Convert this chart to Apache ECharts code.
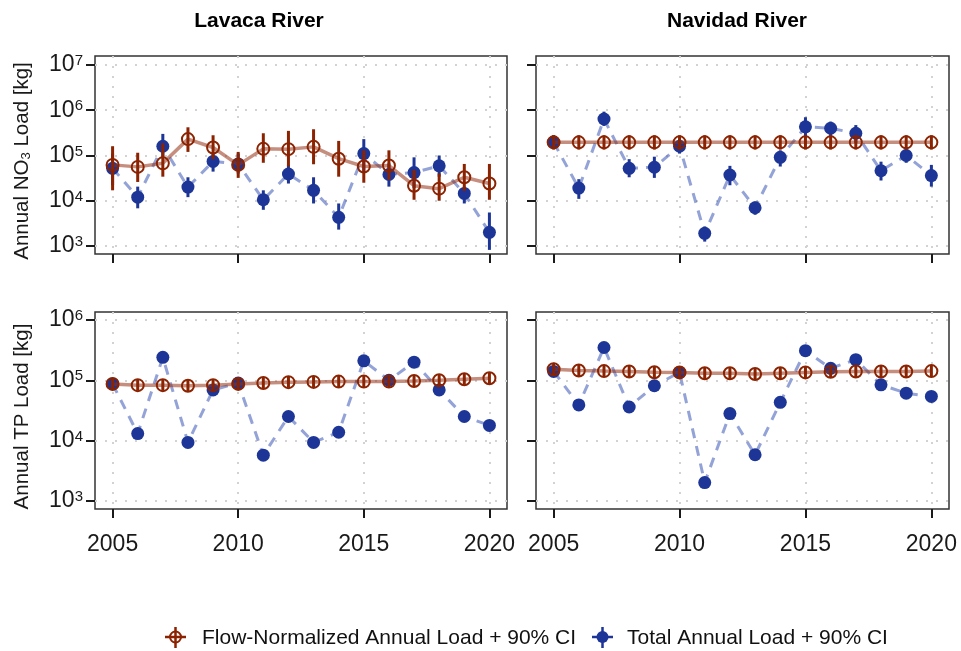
<!DOCTYPE html>
<html>
<head>
<meta charset="utf-8">
<script src="https://cdn.jsdelivr.net/npm/echarts@6/dist/echarts.min.js"></script>
<style>
  html, body { margin: 0; padding: 0; background: #ffffff; }
  #chart { width: 961px; height: 651px; }
</style>
</head>
<body>
<div id="chart"></div>
<script>
// Annual loads, water years 2005-2020
const years = [2005, 2006, 2007, 2008, 2009, 2010, 2011, 2012, 2013, 2014, 2015, 2016, 2017, 2018, 2019, 2020];
const yearTicks = [2005, 2010, 2015, 2020];
const no3Ticks = [1e3, 1e4, 1e5, 1e6, 1e7];
const tpTicks = [1e3, 1e4, 1e5, 1e6];

// Lavaca River, nitrate (kg)
const lavacaNo3Flow   = [62000, 56000, 67000, 230000, 150000, 62000, 140000, 138000, 155000, 85000, 57000, 60000, 21500, 18500, 33000, 24000];
const lavacaNo3FlowLo = [17000, 26000, 34000, 120000, 83000, 32000, 69000, 57000, 64000, 34000, 25000, 29000, 10500, 10000, 16600, 10500];
const lavacaNo3FlowHi = [160000, 115000, 186000, 420000, 280000, 120000, 310000, 350000, 380000, 210000, 130000, 130000, 48000, 40000, 65000, 65000];
const lavacaNo3Total   = [52000, 12000, 160000, 20000, 74000, 65000, 10500, 39000, 17000, 4300, 110000, 38000, 42000, 59000, 14500, 2000];
const lavacaNo3TotalLo = [22000, 6800, 87000, 12000, 44000, 40000, 6300, 24000, 8700, 2300, 44000, 20500, 19000, 34000, 8700, 820];
const lavacaNo3TotalHi = [110000, 20500, 300000, 33000, 110000, 110000, 17000, 61000, 33000, 8700, 230000, 67000, 91000, 100000, 20500, 5500];

// Navidad River, nitrate (kg)
const navidadNo3Flow   = [195000, 195000, 195000, 195000, 195000, 195000, 195000, 195000, 195000, 195000, 195000, 195000, 195000, 195000, 195000, 195000];
const navidadNo3FlowLo = [135000, 135000, 135000, 135000, 135000, 135000, 135000, 135000, 135000, 135000, 135000, 135000, 135000, 135000, 135000, 135000];
const navidadNo3FlowHi = [280000, 280000, 280000, 280000, 280000, 280000, 280000, 280000, 280000, 280000, 280000, 280000, 280000, 280000, 280000, 280000];
const navidadNo3Total   = [195000, 19000, 640000, 52000, 55000, 160000, 1900, 37000, 7000, 91000, 430000, 400000, 310000, 46000, 100000, 36000];
const navidadNo3TotalLo = [140000, 11000, 450000, 33000, 32000, 110000, 1250, 22000, 4900, 57000, 260000, 270000, 190000, 28000, 69000, 20500];
const navidadNo3TotalHi = [280000, 30000, 930000, 83000, 94000, 230000, 2700, 59000, 9600, 130000, 700000, 560000, 470000, 73000, 150000, 62000];

// Lavaca River, total phosphorus (kg)
const lavacaTpFlow   = [87000, 83000, 83000, 81000, 83000, 87000, 90000, 93000, 94000, 95000, 95000, 95000, 97000, 100000, 104000, 108000];
const lavacaTpFlowLo = [70000, 67000, 67000, 65000, 67000, 70000, 72000, 75000, 76000, 77000, 77000, 77000, 78000, 80000, 84000, 87000];
const lavacaTpFlowHi = [109000, 104000, 104000, 101000, 104000, 109000, 112000, 116000, 117000, 119000, 119000, 119000, 121000, 125000, 130000, 135000];
const lavacaTpTotal  = [87000, 13000, 240000, 9300, 69000, 90000, 5700, 25000, 9300, 13700, 210000, 100000, 200000, 69000, 25000, 17800];

// Navidad River, total phosphorus (kg)
const navidadTpFlow   = [152000, 145000, 142000, 140000, 136000, 135000, 131000, 131000, 127000, 131000, 135000, 138000, 140000, 140000, 140000, 142000];
const navidadTpFlowLo = [122000, 116000, 114000, 112000, 109000, 108000, 105000, 105000, 102000, 105000, 108000, 110000, 112000, 112000, 112000, 114000];
const navidadTpFlowHi = [190000, 181000, 178000, 175000, 170000, 169000, 164000, 164000, 159000, 164000, 169000, 172000, 175000, 175000, 175000, 178000];
const navidadTpTotal  = [140000, 39000, 350000, 36000, 81000, 135000, 2000, 28000, 5800, 43000, 310000, 158000, 220000, 84000, 61000, 54000];

const FONT = '"Liberation Sans", Arial, sans-serif';
const RED = '#8b2200';
const RED_LINE = 'rgba(150, 50, 20, 0.55)';
const BLUE = '#1c3596';
const BLUE_LINE = 'rgba(40, 70, 175, 0.5)';
const INK = '#1a1a1a';
const GRID_DOTS = '#d2d2d2';

const panels = [
  { left: 95,  top: 56,  width: 412, height: 198, yMin: 665, yMax: 1.58e7, yTicks: no3Ticks, xLabels: false, yLabels: true,
    flow: lavacaNo3Flow, flowLo: lavacaNo3FlowLo, flowHi: lavacaNo3FlowHi,
    total: lavacaNo3Total, totalLo: lavacaNo3TotalLo, totalHi: lavacaNo3TotalHi, yName: 'no3' },
  { left: 536, top: 56,  width: 413, height: 198, yMin: 665, yMax: 1.58e7, yTicks: no3Ticks, xLabels: false, yLabels: false,
    flow: navidadNo3Flow, flowLo: navidadNo3FlowLo, flowHi: navidadNo3FlowHi,
    total: navidadNo3Total, totalLo: navidadNo3TotalLo, totalHi: navidadNo3TotalHi, yName: null },
  { left: 95,  top: 312, width: 412, height: 197, yMin: 728, yMax: 1.36e6, yTicks: tpTicks, xLabels: true, yLabels: true,
    flow: lavacaTpFlow, flowLo: lavacaTpFlowLo, flowHi: lavacaTpFlowHi,
    total: lavacaTpTotal, totalLo: null, totalHi: null, yName: 'tp' },
  { left: 536, top: 312, width: 413, height: 197, yMin: 728, yMax: 1.36e6, yTicks: tpTicks, xLabels: true, yLabels: false,
    flow: navidadTpFlow, flowLo: navidadTpFlowLo, flowHi: navidadTpFlowHi,
    total: navidadTpTotal, totalLo: null, totalHi: null, yName: null }
];

function errorBar(color) {
  return function (params, api) {
    const x = api.value(0);
    const a = api.coord([x, api.value(1)]);
    const b = api.coord([x, api.value(2)]);
    return {
      type: 'line',
      shape: { x1: a[0], y1: a[1], x2: b[0], y2: b[1] },
      style: { stroke: color, lineWidth: 3 }
    };
  };
}

const grids = [], xAxes = [], yAxes = [], series = [];

panels.forEach((p, i) => {
  grids.push({
    left: p.left, top: p.top, width: p.width, height: p.height,
    show: true, borderColor: '#333333', borderWidth: 1.5, backgroundColor: 'transparent'
  });

  xAxes.push({
    type: 'value', gridIndex: i, min: 2004.3, max: 2020.7,
    axisLine: { show: false },
    axisTick: { show: true, length: 9, customValues: yearTicks, lineStyle: { color: INK, width: 2 } },
    axisLabel: {
      show: p.xLabels, customValues: yearTicks, fontSize: 23, color: INK, fontFamily: FONT, margin: 24,
      formatter: v => String(v)
    },
    splitLine: { show: true, lineStyle: { color: GRID_DOTS, type: [2, 8], width: 2 } }
  });

  const yAxis = {
    type: 'log', logBase: 10, gridIndex: i, min: p.yMin, max: p.yMax,
    axisLine: { show: false },
    axisTick: { show: true, length: 9, customValues: p.yTicks, lineStyle: { color: INK, width: 2 } },
    axisLabel: {
      show: p.yLabels, customValues: p.yTicks, margin: 12,
      formatter: v => '{b|10}{s|' + Math.round(Math.log10(v)) + '}',
      rich: {
        b: { fontSize: 23, color: INK, fontFamily: FONT },
        s: { fontSize: 15, color: INK, fontFamily: FONT, verticalAlign: 'top' }
      }
    },
    splitLine: { show: true, lineStyle: { color: GRID_DOTS, type: [2, 8], width: 2 } }
  };
  if (p.yName === 'no3') {
    yAxis.name = '{n|Annual NO}{sub|3}{n| Load [kg]}';
  } else if (p.yName === 'tp') {
    yAxis.name = '{n|Annual TP Load [kg]}';
  }
  if (p.yName) {
    yAxis.nameLocation = 'middle';
    yAxis.nameGap = 62;
    yAxis.nameRotate = 90;
    yAxis.nameTextStyle = {
      padding: [0, 12, 0, 0],
      rich: {
        n: { fontSize: 20.5, color: INK, fontFamily: FONT },
        sub: { fontSize: 13, color: INK, fontFamily: FONT, verticalAlign: 'bottom', padding: [8, 0, 0, 0] }
      }
    };
  }
  yAxes.push(yAxis);

  const totalPts = years.map((y, k) => [y, p.total[k]]);
  const flowPts = years.map((y, k) => [y, p.flow[k]]);

  series.push({
    type: 'line', xAxisIndex: i, yAxisIndex: i, data: totalPts, showSymbol: false, z: 2,
    lineStyle: { color: BLUE_LINE, width: 3, type: [10, 8] }, silent: true
  });
  if (p.totalLo) {
    series.push({
      type: 'custom', xAxisIndex: i, yAxisIndex: i, z: 3,
      data: years.map((y, k) => [y, p.totalLo[k], p.totalHi[k]]),
      encode: { x: 0, y: [1, 2] }, renderItem: errorBar(BLUE)
    });
  }
  series.push({
    type: 'scatter', xAxisIndex: i, yAxisIndex: i, data: totalPts, z: 4,
    symbol: 'circle', symbolSize: 13, itemStyle: { color: BLUE, opacity: 1 }
  });
  series.push({
    type: 'line', xAxisIndex: i, yAxisIndex: i, data: flowPts, showSymbol: false, z: 5,
    lineStyle: { color: RED_LINE, width: 3.5 }, silent: true
  });
  series.push({
    type: 'custom', xAxisIndex: i, yAxisIndex: i, z: 6,
    data: years.map((y, k) => [y, p.flowLo[k], p.flowHi[k]]),
    encode: { x: 0, y: [1, 2] }, renderItem: errorBar(RED)
  });
  series.push({
    type: 'scatter', xAxisIndex: i, yAxisIndex: i, data: flowPts, z: 7,
    symbol: 'circle', symbolSize: 12,
    itemStyle: { color: 'rgba(255,255,255,0)', borderColor: RED, borderWidth: 2, opacity: 1 }
  });
});

const graphic = [
  // panel titles
  { type: 'text', x: 259, y: 21, style: { text: 'Lavaca River', font: 'bold 21px ' + FONT, fill: '#000', align: 'center', verticalAlign: 'middle' } },
  { type: 'text', x: 737, y: 21, style: { text: 'Navidad River', font: 'bold 21px ' + FONT, fill: '#000', align: 'center', verticalAlign: 'middle' } },
  // legend: flow-normalized load key
  { type: 'line', shape: { x1: 165, y1: 637, x2: 186, y2: 637 }, style: { stroke: RED, lineWidth: 2.5 } },
  { type: 'line', shape: { x1: 175.5, y1: 627, x2: 175.5, y2: 648 }, style: { stroke: RED, lineWidth: 2.5 } },
  { type: 'circle', shape: { cx: 175.5, cy: 637, r: 5.5 }, style: { fill: 'rgba(255,255,255,0)', stroke: RED, lineWidth: 2 } },
  { type: 'text', x: 202, y: 638, style: { text: 'Flow-Normalized Annual Load + 90% CI', font: '21px ' + FONT, fill: '#111', align: 'left', verticalAlign: 'middle' } },
  // legend: total load key
  { type: 'line', shape: { x1: 592, y1: 637, x2: 613, y2: 637 }, style: { stroke: BLUE, lineWidth: 2.5 } },
  { type: 'line', shape: { x1: 602.5, y1: 627, x2: 602.5, y2: 648 }, style: { stroke: BLUE, lineWidth: 2.5 } },
  { type: 'circle', shape: { cx: 602.5, cy: 637, r: 6 }, style: { fill: BLUE } },
  { type: 'text', x: 627, y: 638, style: { text: 'Total Annual Load + 90% CI', font: '21px ' + FONT, fill: '#111', align: 'left', verticalAlign: 'middle' } }
];

const chart = echarts.init(document.getElementById('chart'), null, { renderer: 'canvas' });
chart.setOption({
  animation: false,
  backgroundColor: '#ffffff',
  textStyle: { fontFamily: FONT },
  grid: grids,
  xAxis: xAxes,
  yAxis: yAxes,
  series: series,
  graphic: graphic
});
</script>
</body>
</html>
